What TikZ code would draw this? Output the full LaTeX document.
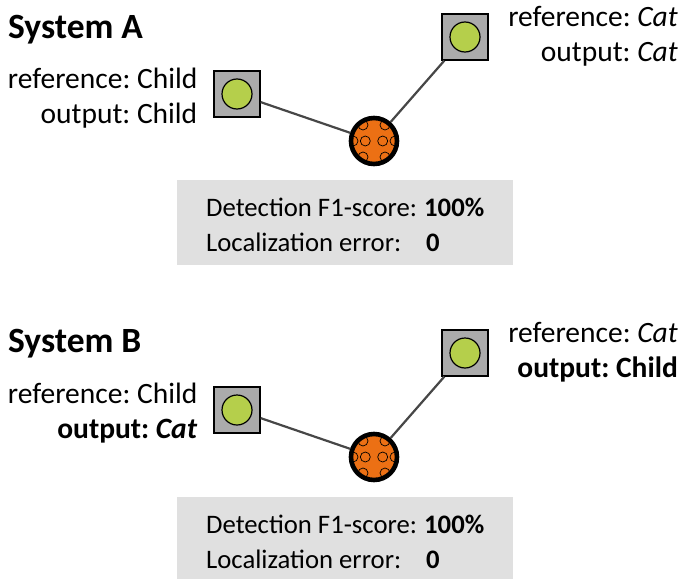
\documentclass[tikz,border=0pt]{standalone}
\usepackage{fontspec}
\setmainfont{Carlito}
\frenchspacing
\definecolor{ballorange}{HTML}{EC7014}
\definecolor{dotgreen}{HTML}{B5CF4B}
\tikzset{
    sensor/.style={draw=black, fill=black!33, line width=1.3pt, minimum size=46pt, inner sep=0pt},
    dot/.style={circle, draw=black, fill=dotgreen, line width=1.2pt, minimum size=30pt, inner sep=0pt},
    ball/.style={circle, draw=black, fill=ballorange, line width=4.6pt, minimum size=46pt, inner sep=0pt,
        path picture={
            \foreach \hx/\hy in {-8.7/0, 8.7/0, -21/0, 21/0, -11/16, 11/16, -11/-16, 11/-16}
                \draw[line width=.7pt] ([xshift=\hx pt, yshift=\hy pt]path picture bounding box.center) circle (5);
        }},
    link/.style={draw=black!72, line width=2.2pt},
    panel/.style={fill=black!12, minimum width=336pt, minimum height=85pt, inner sep=0pt},
    label/.style={anchor=base east, inner sep=0pt, font=\fontsize{29.5}{29.5}\selectfont},
    title/.style={anchor=base west, inner sep=0pt, font=\fontsize{35.5}{35.5}\selectfont\bfseries},
    score/.style={anchor=base west, inner sep=0pt, font=\fontsize{26.7}{26.7}\selectfont},
}
\begin{document}
\begin{tikzpicture}[x=1pt, y=-1pt]
    \useasboundingbox (0,0) rectangle (682,578);

    % System A
    \node[title] (titleA) at (8,38) {System A};
    \node[label] (refA) at (197.5,88) {reference: Child};
    \node[label] (outA) at (197.5,123) {output: Child};
    \node[label] (refB) at (678,27) {reference: \textit{Cat}};
    \node[label] (outB) at (678,62) {output: \textit{Cat}};
    \node[ball] (ballA) at (374,141) {};
    \node[sensor] (leftA) at (237,94) {};
    \node[sensor] (rightA) at (465,37) {};
    \node[dot] at (leftA) {};
    \node[dot] at (rightA) {};
    \draw[link] (leftA) -- (ballA);
    \draw[link] (rightA) -- (ballA);
    \node[panel] (panelA) at (345,222.5) {};
    \node[score] (f1A) at (206,216) {Detection F1-score:};
    \node[score] (valA) at (424,216) {\textbf{100\%}};
    \node[score] (errA) at (206,251) {Localization error:};
    \node[score] (zeroA) at (426,251) {\textbf{0}};

    % System B
    \node[title] (titleB) at (8,352) {System B};
    \node[label] (refC) at (197.5,403) {reference: Child};
    \node[label] (outC) at (197.5,438) {\textbf{output: \textit{Cat}}};
    \node[label] (refD) at (678,342) {reference: \textit{Cat}};
    \node[label] (outD) at (678,377) {\textbf{output: Child}};
    \node[ball] (ballB) at (374,457) {};
    \node[sensor] (leftB) at (237,410) {};
    \node[sensor] (rightB) at (465,353) {};
    \node[dot] at (leftB) {};
    \node[dot] at (rightB) {};
    \draw[link] (leftB) -- (ballB);
    \draw[link] (rightB) -- (ballB);
    \node[panel] (panelB) at (345,539) {};
    \node[score] (f1B) at (206,533) {Detection F1-score:};
    \node[score] (valB) at (424,533) {\textbf{100\%}};
    \node[score] (errB) at (206,568) {Localization error:};
    \node[score] (zeroB) at (426,568) {\textbf{0}};
\end{tikzpicture}
\end{document}
